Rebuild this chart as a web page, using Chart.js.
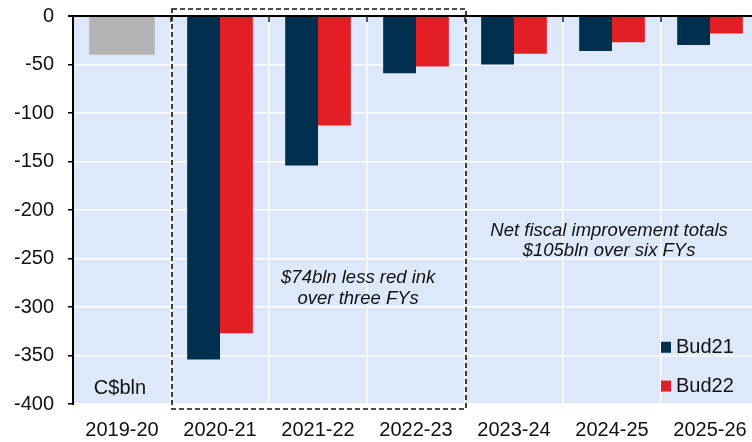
<!DOCTYPE html>
<html>
<head>
<meta charset="utf-8">
<script src="https://cdn.jsdelivr.net/npm/chart.js@4"></script>
<style>
    html, body { margin: 0; padding: 0; background: #fff; overflow: hidden; }
    #wrap { width: 760px; height: 442px; }
</style>
</head>
<body>
<div id="wrap"><canvas id="chart"></canvas></div>
<script>
const years = ['2019-20', '2020-21', '2021-22', '2022-23', '2023-24', '2024-25', '2025-26'];
const actual = [-40, null, null, null, null, null, null];
const bud21 = [null, -354, -154, -59, -50, -36, -30];
const bud22 = [null, -327, -113, -52, -39, -27, -18];
const yTicks = [0, -50, -100, -150, -200, -250, -300, -350, -400];

const NAVY = '#00304e';
const RED = '#e31e25';
const GREY = '#b4b4b6';
const FONT = '"Liberation Sans", Arial, sans-serif';

// text notes, placed in data units (category index, value)
const notes = [
    { lines: ['$74bln less red ink', 'over three FYs'], x: 2.41, y: [-270, -292] },
    { lines: ['Net fiscal improvement totals', '$105bln over six FYs'], x: 4.97, y: [-222, -242] }
];

const extras = {
    id: 'extras',
    beforeDraw(chart) {
        const { ctx, chartArea: a } = chart;
        ctx.save();
        ctx.fillStyle = '#dde9fa';
        ctx.fillRect(a.left, a.top, a.right - a.left, a.bottom - a.top);
        ctx.restore();
    },
    afterDatasetsDraw(chart) {
        const { ctx, chartArea: a, scales: { x, y } } = chart;
        const w = x.getPixelForValue(1) - x.getPixelForValue(0);
        ctx.save();

        // small ticks under the zero line at category boundaries
        ctx.strokeStyle = '#222';
        ctx.lineWidth = 1.5;
        for (let i = 1; i < years.length; i++) {
            const px = Math.round(x.getPixelForValue(i) - w / 2);
            ctx.beginPath();
            ctx.moveTo(px, a.top);
            ctx.lineTo(px, a.top + 6);
            ctx.stroke();
        }

        // dashed box round the three budget years
        const l = x.getPixelForValue(1) - w / 2 + 1;
        const r = x.getPixelForValue(3) + w / 2 + 1;
        ctx.strokeStyle = '#111';
        ctx.lineWidth = 1.6;
        ctx.setLineDash([5, 3]);
        ctx.strokeRect(l, a.top - 7, r - l, a.bottom - a.top + 12);
        ctx.setLineDash([]);

        // notes
        ctx.fillStyle = '#111';
        ctx.textAlign = 'center';
        ctx.textBaseline = 'middle';
        ctx.font = 'italic 18.5px ' + FONT;
        notes.forEach(n => {
            const px = x.getPixelForValue(0) + n.x * w;
            n.lines.forEach((t, k) => ctx.fillText(t, px, y.getPixelForValue(n.y[k])));
        });

        ctx.font = '20px ' + FONT;
        ctx.fillText('C$bln', x.getPixelForValue(0) - 2, y.getPixelForValue(-384));

        // legend
        ctx.textAlign = 'left';
        const lx = x.getPixelForValue(6) - 49;
        [[chart.data.datasets[1], -341], [chart.data.datasets[2], -381]].forEach(([ds, v]) => {
            const py = y.getPixelForValue(v);
            ctx.fillStyle = ds.backgroundColor;
            ctx.fillRect(lx, py - 5, 10, 11);
            ctx.fillStyle = '#111';
            ctx.fillText(ds.label, lx + 15, py + 1);
        });
        ctx.restore();
    }
};

new Chart(document.getElementById('chart'), {
    type: 'bar',
    data: {
        labels: years,
        datasets: [
            { label: 'Actual', data: actual, backgroundColor: GREY },
            { label: 'Bud21', data: bud21, backgroundColor: NAVY },
            { label: 'Bud22', data: bud22, backgroundColor: RED }
        ]
    },
    options: {
        responsive: true,
        maintainAspectRatio: false,
        animation: false,
        skipNull: true,
        categoryPercentage: 0.67,
        barPercentage: 1,
        layout: { padding: { top: 16, right: 1, bottom: 0, left: 0 } },
        scales: {
            x: {
                grid: {
                    color: '#ffffff',
                    lineWidth: 1.5,
                    drawTicks: false
                },
                border: { display: false },
                ticks: {
                    color: '#111',
                    font: { family: FONT, size: 20 },
                    padding: 14,
                    maxRotation: 0
                },
                afterFit: s => {
                    s.height = 38;
                    s.paddingLeft = 0;
                    s.paddingRight = 0;
                }
            },
            y: {
                min: -400,
                max: 0,
                afterBuildTicks: s => { s.ticks = yTicks.map(v => ({ value: v })); },
                grid: {
                    color: c => c.tick && c.tick.value === 0 ? '#000' : '#ffffff',
                    lineWidth: c => c.tick && c.tick.value === 0 ? 2 : 1.5,
                    tickColor: '#000',
                    tickLength: 5
                },
                border: { display: true, color: '#000', width: 2 },
                ticks: {
                    color: '#111',
                    font: { family: FONT, size: 20 },
                    padding: 14
                },
                afterFit: s => {
                    s.width = 73;
                    s.paddingTop = 0;
                    s.paddingBottom = 0;
                }
            }
        },
        plugins: {
            legend: { display: false },
            tooltip: { enabled: false }
        }
    },
    plugins: [extras]
});
</script>
</body>
</html>
